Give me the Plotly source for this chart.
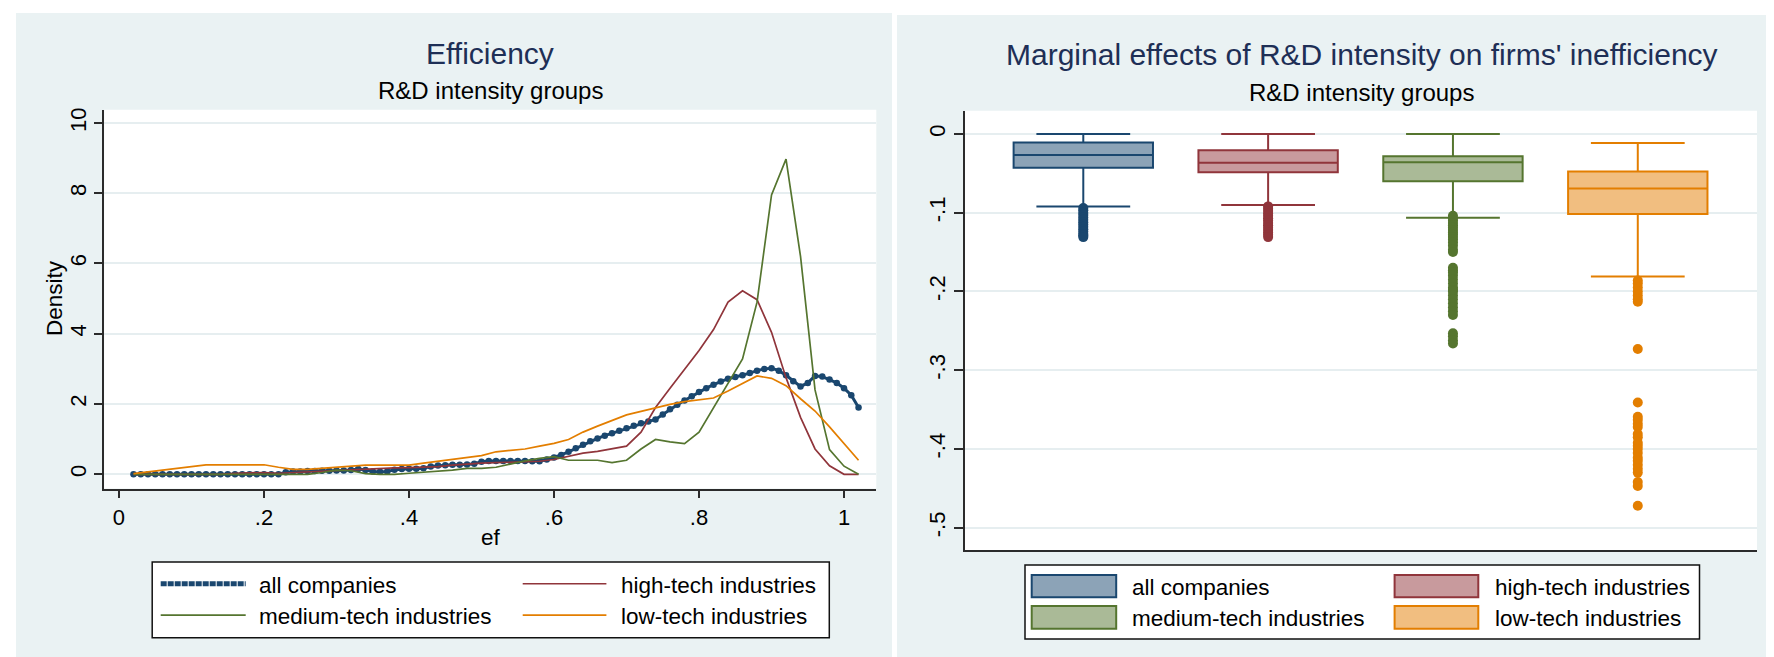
import plotly.graph_objects as go

W, H = 1774, 657
FONT = "Liberation Sans, Arial, Helvetica, sans-serif"

# ---------------- data: left panel (kernel densities of efficiency) ----------------
ef_grid = [0.02, 0.04, 0.06, 0.08, 0.10, 0.12, 0.14, 0.16, 0.18, 0.20,
           0.22, 0.24, 0.26, 0.28, 0.30, 0.32, 0.34, 0.36, 0.38, 0.40,
           0.42, 0.44, 0.46, 0.48, 0.50, 0.52, 0.54, 0.56, 0.58, 0.60,
           0.62, 0.64, 0.66, 0.68, 0.70, 0.72, 0.74, 0.76, 0.78, 0.80,
           0.82, 0.84, 0.86, 0.88, 0.90, 0.92, 0.94, 0.96, 0.98, 1.00, 1.02]

dens_high = [0, 0, 0, 0, 0, 0, 0, 0.03, 0.05, 0.05,
             0.03, 0.05, 0.07, 0.09, 0.10, 0.12, 0.14, 0.16, 0.18, 0.19,
             0.20, 0.22, 0.26, 0.30, 0.32, 0.33, 0.34, 0.35, 0.37, 0.42,
             0.52, 0.60, 0.65, 0.72, 0.80, 1.20, 1.90, 2.45, 2.97, 3.52,
             4.12, 4.90, 5.22, 4.97, 4.04, 2.75, 1.62, 0.72, 0.24, 0.0, 0.0]

dens_medium = [0, 0, 0, 0, 0, 0, 0, 0, 0, 0,
               0, 0, 0.0, 0.05, 0.12, 0.10, 0.02, 0.0, 0.0, 0.03,
               0.06, 0.08, 0.12, 0.17, 0.17, 0.20, 0.30, 0.38, 0.45, 0.50,
               0.40, 0.40, 0.40, 0.33, 0.40, 0.72, 0.99, 0.92, 0.87, 1.20,
               1.90, 2.62, 3.28, 4.90, 7.95, 8.97, 6.20, 2.40, 0.70, 0.23, 0.0]

dens_low = [0.02, 0.07, 0.12, 0.17, 0.22, 0.27, 0.27, 0.27, 0.27, 0.27,
            0.20, 0.14, 0.14, 0.17, 0.20, 0.22, 0.26, 0.26, 0.26, 0.26,
            0.32, 0.37, 0.42, 0.47, 0.53, 0.64, 0.68, 0.72, 0.80, 0.88,
            0.99, 1.20, 1.37, 1.53, 1.69, 1.79, 1.90, 1.99, 2.07, 2.12,
            2.17, 2.37, 2.58, 2.80, 2.73, 2.52, 2.15, 1.80, 1.35, 0.88, 0.40]

ef_grid_all = [0.02, 0.03, 0.04, 0.05, 0.06, 0.07, 0.08, 0.09, 0.10, 0.11,
               0.12, 0.13, 0.14, 0.15, 0.16, 0.17, 0.18, 0.19, 0.20, 0.21,
               0.22, 0.23, 0.24, 0.25, 0.26, 0.27, 0.28, 0.29, 0.30, 0.31,
               0.32, 0.33, 0.34, 0.35, 0.36, 0.37, 0.38, 0.39, 0.40, 0.41,
               0.42, 0.43, 0.44, 0.45, 0.46, 0.47, 0.48, 0.49, 0.50, 0.51,
               0.52, 0.53, 0.54, 0.55, 0.56, 0.57, 0.58, 0.59, 0.60, 0.61,
               0.62, 0.63, 0.64, 0.65, 0.66, 0.67, 0.68, 0.69, 0.70, 0.71,
               0.72, 0.73, 0.74, 0.75, 0.76, 0.77, 0.78, 0.79, 0.80, 0.81,
               0.82, 0.83, 0.84, 0.85, 0.86, 0.87, 0.88, 0.89, 0.90, 0.91,
               0.92, 0.93, 0.94, 0.95, 0.96, 0.97, 0.98, 0.99, 1.00, 1.01, 1.02]

dens_all = [0, 0, 0, 0, 0, 0, 0, 0, 0, 0,
            0, 0, 0, 0, 0, 0, 0, 0, 0, 0,
            0, 0.06, 0.08, 0.08, 0.09, 0.09, 0.10, 0.10, 0.11, 0.11,
            0.12, 0.15, 0.12, 0.08, 0.07, 0.08, 0.13, 0.15, 0.16, 0.16,
            0.17, 0.22, 0.25, 0.26, 0.27, 0.27, 0.28, 0.30, 0.36, 0.38,
            0.38, 0.38, 0.38, 0.38, 0.38, 0.37, 0.37, 0.42, 0.48, 0.55,
            0.64, 0.74, 0.84, 0.94, 1.02, 1.10, 1.17, 1.24, 1.31, 1.38,
            1.45, 1.50, 1.56, 1.70, 1.85, 1.98, 2.10, 2.22, 2.34, 2.45,
            2.55, 2.64, 2.72, 2.77, 2.82, 2.88, 2.95, 3.00, 3.02, 2.95,
            2.82, 2.65, 2.50, 2.60, 2.80, 2.78, 2.70, 2.60, 2.45, 2.25, 1.90]

x_ticks_left = [0, 0.2, 0.4, 0.6, 0.8, 1.0]
x_ticklabels_left = ["0", ".2", ".4", ".6", ".8", "1"]
y_ticks_left = [0, 2, 4, 6, 8, 10]
y_ticklabels_left = ["0", "2", "4", "6", "8", "10"]

# ---------------- data: right panel (marginal effects box plots) ----------------
groups = ["all companies", "high-tech industries", "medium-tech industries", "low-tech industries"]
box_upper = [0.0, 0.0, 0.0, -0.0114]
box_q3 = [-0.0110, -0.0207, -0.0283, -0.0477]
box_median = [-0.0266, -0.0367, -0.0360, -0.0692]
box_q1 = [-0.0430, -0.0485, -0.0600, -0.1017]
box_lower = [-0.0920, -0.0903, -0.1063, -0.1810]

outliers_all = [-0.094, -0.097, -0.100, -0.103, -0.106, -0.109, -0.112, -0.115,
                -0.118, -0.121, -0.124, -0.127, -0.129, -0.131]
outliers_high = [-0.092, -0.095, -0.098, -0.101, -0.104, -0.107, -0.110, -0.113,
                 -0.116, -0.119, -0.122, -0.125, -0.128, -0.131]
outliers_medium = [-0.104, -0.107, -0.110, -0.113, -0.116, -0.119, -0.122, -0.125,
                   -0.128, -0.131, -0.134, -0.138, -0.142, -0.147, -0.150,
                   -0.170, -0.173, -0.176, -0.180, -0.185, -0.190, -0.195, -0.198,
                   -0.200, -0.205, -0.210, -0.215, -0.220, -0.225, -0.230,
                   -0.253, -0.257, -0.262, -0.266]
outliers_low = [-0.186, -0.190, -0.195, -0.200, -0.205, -0.210, -0.213,
                -0.273, -0.341, -0.359, -0.363, -0.368, -0.372,
                -0.381, -0.385, -0.392, -0.396, -0.400, -0.405, -0.411,
                -0.415, -0.420, -0.425, -0.430, -0.442, -0.447, -0.472]
outliers = [outliers_all, outliers_high, outliers_medium, outliers_low]

y_ticks_right = [0, -0.1, -0.2, -0.3, -0.4, -0.5]
y_ticklabels_right = ["0", "-.1", "-.2", "-.3", "-.4", "-.5"]

# ---------------- styles ----------------
NAVY, MAROON, GREEN, ORANGE = "#1a476f", "#90353b", "#55752f", "#e37e00"
COLORS = [NAVY, MAROON, GREEN, ORANGE]
FILLS = ["#8ca3b7", "#c89a9d", "#aaba97", "#f1be80"]
PANEL_BG = "#eaf2f3"
GRID = "#e6eef0"
AXIS = "#2b2b2b"


def px(x):
    return x / W


def py(y):
    return 1 - y / H


fig = go.Figure()

# left panel lines
fig.add_trace(go.Scatter(x=ef_grid_all, y=dens_all, mode="lines+markers",
                         line=dict(color=NAVY, width=3),
                         marker=dict(color=NAVY, size=6.5),
                         xaxis="x", yaxis="y", showlegend=False))
for vals, col in [(dens_high, MAROON), (dens_medium, GREEN), (dens_low, ORANGE)]:
    fig.add_trace(go.Scatter(x=ef_grid, y=vals, mode="lines",
                             line=dict(color=col, width=1.7),
                             xaxis="x", yaxis="y", showlegend=False))

# right panel boxes
for i, g in enumerate(groups):
    fig.add_trace(go.Box(x=[g], q1=[box_q1[i]], median=[box_median[i]], q3=[box_q3[i]],
                         lowerfence=[box_lower[i]], upperfence=[box_upper[i]],
                         width=0.754, whiskerwidth=0.673, boxpoints=False,
                         line=dict(color=COLORS[i], width=2), fillcolor=FILLS[i],
                         xaxis="x2", yaxis="y2", showlegend=False, hoverinfo="skip"))
    fig.add_trace(go.Scatter(x=[g] * len(outliers[i]), y=outliers[i], mode="markers",
                             marker=dict(color=COLORS[i], size=10, line=dict(width=0)),
                             xaxis="x2", yaxis="y2", showlegend=False))

# ---------------- shapes: panel backgrounds, plot areas, legends ----------------
shapes = [
    dict(type="rect", xref="paper", yref="paper", x0=px(8), x1=px(884), y0=0, y1=py(3),
         fillcolor=PANEL_BG, line=dict(width=0), layer="below"),
    dict(type="rect", xref="paper", yref="paper", x0=px(889), x1=1, y0=0, y1=py(5),
         fillcolor=PANEL_BG, line=dict(width=0), layer="below"),
    dict(type="rect", xref="x domain", yref="y domain", x0=0, x1=1, y0=0, y1=1,
         fillcolor="white", line=dict(width=0), layer="below"),
    dict(type="rect", xref="x2 domain", yref="y2 domain", x0=0, x1=1, y0=0, y1=1,
         fillcolor="white", line=dict(width=0), layer="below"),
    # legend boxes
    dict(type="rect", xref="paper", yref="paper", x0=px(144.2), x1=px(821.3), y0=py(629.7), y1=py(553.8),
         fillcolor="white", line=dict(color="#111111", width=1.5)),
    dict(type="rect", xref="paper", yref="paper", x0=px(1017), x1=px(1691.5), y0=py(631), y1=py(556.7),
         fillcolor="white", line=dict(color="#111111", width=1.5)),
]

annotations = []

# left legend
left_keys = [
    (152.7, 237.7, 575.5, NAVY, 5, "6px,1px", 249, groups[0]),
    (514.7, 598.4, 575.5, MAROON, 1.7, "solid", 611, groups[1]),
    (152.7, 237.7, 607.0, GREEN, 1.7, "solid", 249, groups[2]),
    (514.7, 598.4, 607.0, ORANGE, 1.7, "solid", 611, groups[3]),
]
for x0, x1, yy, col, wd, dash, tx, label in left_keys:
    shapes.append(dict(type="line", xref="paper", yref="paper", x0=px(x0), x1=px(x1),
                       y0=py(yy), y1=py(yy), line=dict(color=col, width=wd, dash=dash)))
    annotations.append(dict(text=label, x=px(tx), y=py(yy + 1.5), xref="paper", yref="paper",
                            xanchor="left", yanchor="middle", showarrow=False,
                            font=dict(family=FONT, size=22.5, color="black")))

# right legend
right_keys = [
    (1023.7, 1108.2, 566.7, 589.0, 1122, 579.0),
    (1386.6, 1470.3, 566.7, 589.0, 1484.6, 579.0),
    (1023.7, 1108.2, 597.7, 620.7, 1122, 610.0),
    (1386.6, 1470.3, 597.7, 620.7, 1484.6, 610.0),
]
for i, (x0, x1, y0, y1, tx, ty) in enumerate(right_keys):
    shapes.append(dict(type="rect", xref="paper", yref="paper", x0=px(x0), x1=px(x1),
                       y0=py(y1), y1=py(y0), fillcolor=FILLS[i],
                       line=dict(color=COLORS[i], width=2)))
    annotations.append(dict(text=groups[i], x=px(tx), y=py(ty), xref="paper", yref="paper",
                            xanchor="left", yanchor="middle", showarrow=False,
                            font=dict(family=FONT, size=22.5, color="black")))

# titles
annotations += [
    dict(text="Efficiency", x=px(482), y=py(44), xref="paper", yref="paper",
         xanchor="center", yanchor="middle", showarrow=False,
         font=dict(family=FONT, size=30, color="#1e2f56")),
    dict(text="R&D intensity groups", x=px(482), y=py(81), xref="paper", yref="paper",
         xanchor="center", yanchor="middle", showarrow=False,
         font=dict(family=FONT, size=24, color="black")),
    dict(text="Marginal effects of R&D intensity on firms' inefficiency", x=px(1353.5), y=py(45),
         xref="paper", yref="paper", xanchor="center", yanchor="middle", showarrow=False,
         font=dict(family=FONT, size=30, color="#1e2f56")),
    dict(text="R&D intensity groups", x=px(1353.5), y=py(83), xref="paper", yref="paper",
         xanchor="center", yanchor="middle", showarrow=False,
         font=dict(family=FONT, size=24, color="black")),
    dict(text="Density", x=px(46), y=py(289), xref="paper", yref="paper", textangle=-90,
         xanchor="center", yanchor="middle", showarrow=False,
         font=dict(family=FONT, size=22.5, color="black")),
    dict(text="ef", x=px(482.5), y=py(529), xref="paper", yref="paper",
         xanchor="center", yanchor="middle", showarrow=False,
         font=dict(family=FONT, size=22.5, color="black")),
]

tickfont = dict(family=FONT, size=22, color="black")

fig.update_layout(
    width=W, height=H,
    margin=dict(l=0, r=0, t=0, b=0),
    paper_bgcolor="white", plot_bgcolor="white",
    showlegend=False,
    font=dict(family=FONT, color="black"),
    shapes=shapes, annotations=annotations,
    xaxis=dict(domain=[px(96.2), px(868.3)], anchor="y", range=[-0.0204, 1.0445],
               tickmode="array", tickvals=x_ticks_left, ticktext=x_ticklabels_left,
               ticks="outside", ticklen=8, tickwidth=1.5, tickcolor=AXIS,
               showline=True, linecolor=AXIS, linewidth=1.5, showgrid=False, zeroline=False,
               tickfont=tickfont),
    yaxis=dict(domain=[py(480), py(100)], anchor="x", range=[-0.406, 10.377],
               tickmode="array", tickvals=y_ticks_left, ticktext=y_ticklabels_left, tickangle=-90,
               ticks="outside", ticklen=8, tickwidth=1.5, tickcolor=AXIS,
               showline=True, linecolor=AXIS, linewidth=1.5,
               showgrid=True, gridcolor=GRID, gridwidth=2, zeroline=False,
               tickfont=tickfont),
    xaxis2=dict(domain=[px(957), px(1749)], anchor="y2", type="category",
                categoryorder="array", categoryarray=groups, range=[-0.64, 3.645],
                showticklabels=False, ticks="", showline=True, linecolor=AXIS, linewidth=1.5,
                showgrid=False, zeroline=False),
    yaxis2=dict(domain=[py(542), py(101)], anchor="x2", range=[-0.5287, 0.0295],
                tickmode="array", tickvals=y_ticks_right, ticktext=y_ticklabels_right, tickangle=-90,
                ticks="outside", ticklen=9, tickwidth=1.5, tickcolor=AXIS,
                showline=True, linecolor=AXIS, linewidth=1.5,
                showgrid=True, gridcolor=GRID, gridwidth=2, zeroline=False,
                tickfont=tickfont),
)

fig.write_html("out.html")
